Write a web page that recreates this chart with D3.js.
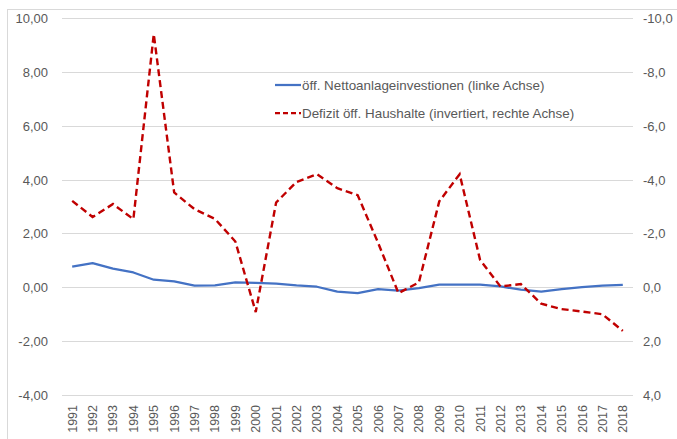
<!DOCTYPE html>
<html><head><meta charset="utf-8">
<script src="https://cdn.jsdelivr.net/npm/d3@7"></script>
<style>body{margin:0;background:#fff}svg{display:block}text{font-family:"Liberation Sans",Arial,sans-serif;fill:#595959}</style>
</head><body>
<svg id="c" width="677" height="439"></svg>
<script>
const years = d3.range(1991, 2019).map(String);
const invest = [0.77,0.90,0.69,0.55,0.28,0.22,0.06,0.07,0.18,0.16,0.14,0.07,0.02,-0.16,-0.22,-0.07,-0.12,-0.03,0.10,0.10,0.10,0.03,-0.09,-0.16,-0.07,0.01,0.06,0.09];
const deficit = [-3.21,-2.61,-3.09,-2.53,-9.4,-3.52,-2.90,-2.54,-1.70,0.92,-3.15,-3.91,-4.20,-3.68,-3.42,-1.65,0.22,-0.18,-3.19,-4.20,-1.02,-0.03,-0.12,0.61,0.81,0.90,1.00,1.62];
const leftTicks = [-4,-2,0,2,4,6,8,10];
const rightTicks = [4,2,0,-2,-4,-6,-8,-10];
const legendLabels = ["öff. Nettoanlageinvestionen (linke Achse)","Defizit öff. Haushalte (invertiert, rechte Achse)"];

const svg = d3.select("#c");
const L = 62, R = 633, T = 18, B = 395;
svg.append("rect").attr("x",7.5).attr("y",9.5).attr("width",700).attr("height",450).attr("fill","none").attr("stroke","#d9d9d9");

const x = d3.scaleBand().domain(years).range([L,R]);
const yL = d3.scaleLinear().domain([-4,10]).range([B,T]);
const yR = d3.scaleLinear().domain([4,-10]).range([B,T]);

// gridlines
svg.append("g").selectAll("line").data(leftTicks).join("line")
  .attr("x1",L).attr("x2",R).attr("y1",d=>Math.round(yL(d))+0.5).attr("y2",d=>Math.round(yL(d))+0.5)
  .attr("stroke","#d9d9d9").attr("stroke-width",1);

const fmtL = d=>d.toFixed(2).replace(".",",");
const fmtR = d=>d.toFixed(1).replace(".",",");
const gL = svg.append("g").attr("transform",`translate(${L-14},0)`)
  .call(d3.axisLeft(yL).tickValues(leftTicks).tickFormat(fmtL).tickSize(0).tickPadding(0));
gL.select(".domain").remove();
gL.selectAll("text").style("font-size","13px").attr("fill","#595959").attr("dy","0.35em");

const gR = svg.append("g").attr("transform",`translate(${R+10},0)`)
  .call(d3.axisRight(yR).tickValues(rightTicks).tickFormat(fmtR).tickSize(0).tickPadding(0));
gR.select(".domain").remove();
gR.selectAll("text").style("font-size","13px").attr("fill","#595959").attr("dy","0.35em");

// x labels
svg.append("g").selectAll("text").data(years).join("text")
  .attr("transform",d=>`translate(${x(d)+x.bandwidth()/2+4.5},405) rotate(-90)`)
  .attr("text-anchor","end").style("font-size","12.5px").text(d=>d);

const cx = d=>x(d)+x.bandwidth()/2;
svg.append("path").datum(invest).attr("fill","none").attr("stroke","#4472c4").attr("stroke-width",2.25)
  .attr("stroke-linejoin","round")
  .attr("d",d3.line().x((d,i)=>cx(years[i])).y(d=>yL(d)));
svg.append("path").datum(deficit).attr("fill","none").attr("stroke","#c00000").attr("stroke-width",2.4)
  .attr("stroke-dasharray","7,4")
  .attr("d",d3.line().x((d,i)=>cx(years[i])).y(d=>yR(d)));

// legend
const lg = svg.append("g");
lg.append("rect").attr("x",270).attr("y",73.5).attr("width",322).attr("height",52).attr("fill","#fff");
const items = [{c:"#4472c4",dash:null},{c:"#c00000",dash:"5,3"}];
items.forEach((it,i)=>{
  const yy = 85 + i*28;
  lg.append("line").attr("x1",275).attr("x2",301).attr("y1",yy).attr("y2",yy)
    .attr("stroke",it.c).attr("stroke-width",2.25).attr("stroke-dasharray",it.dash);
  lg.append("text").attr("x",302).attr("y",yy).attr("dy","0.35em").style("font-size","13.4px").text(legendLabels[i]);
});
</script>
</body></html>
